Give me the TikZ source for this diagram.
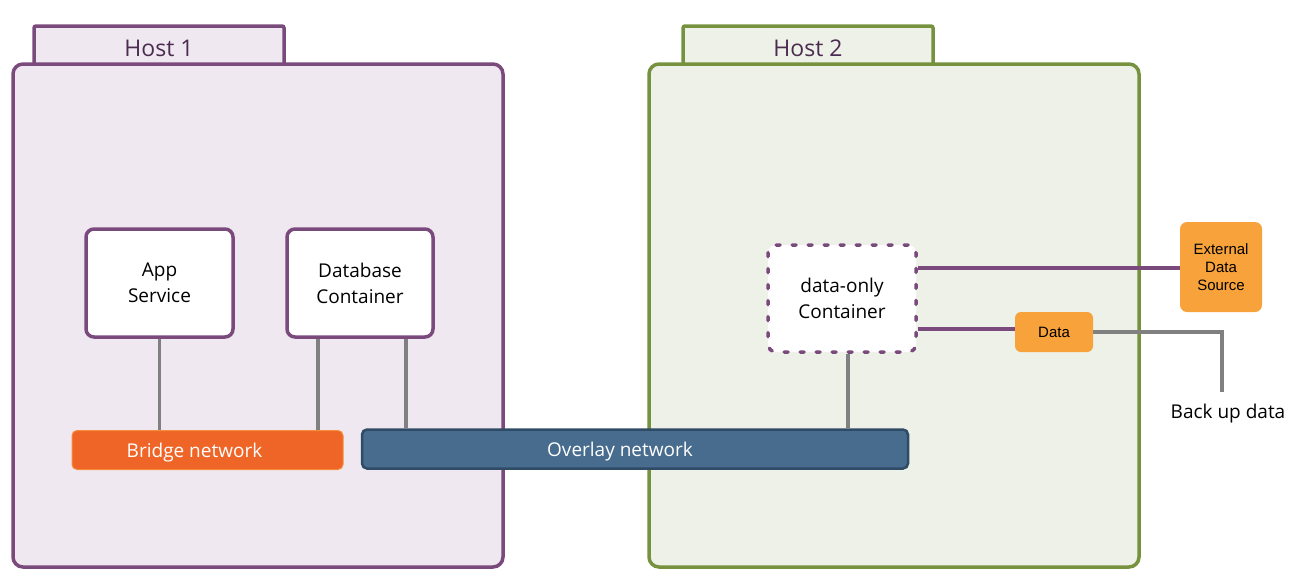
\documentclass[tikz,border=0pt]{standalone}
\usepackage{fontspec}
\setmainfont{Open Sans}
\newfontfamily\arialfont{Liberation Sans}
\usetikzlibrary{positioning}
\definecolor{hostPurple}{RGB}{123,74,125}
\definecolor{hostPurpleFill}{RGB}{240,232,240}
\definecolor{hostGreen}{RGB}{118,146,63}
\definecolor{hostGreenFill}{RGB}{238,241,232}
\definecolor{hostText}{RGB}{75,43,79}
\definecolor{linkGray}{RGB}{128,128,128}
\definecolor{bridgeOrange}{RGB}{239,101,39}
\definecolor{bridgeOrangeLight}{RGB}{246,140,60}
\definecolor{overlayBlue}{RGB}{71,108,142}
\definecolor{overlayBlueDark}{RGB}{47,75,102}
\definecolor{dataOrange}{RGB}{247,162,58}

\tikzset{
  hostbox/.style={draw, line width=3.5pt, rounded corners=10pt, inner sep=0pt,
    minimum width=490pt, minimum height=503pt},
  hosttab/.style={draw, line width=3.5pt, rounded corners=2pt, inner sep=0pt,
    minimum width=250pt, minimum height=44pt, text=hostText,
    font=\fontsize{23}{27}\selectfont},
  svcbox/.style={draw=hostPurple, fill=white, line width=3.5pt, rounded corners=8pt,
    minimum width=147pt, minimum height=108pt, align=center,
    font=\fontsize{19}{26}\selectfont},
  netbar/.style={rounded corners=5pt, minimum height=39pt, inner sep=0pt},
  netlabel/.style={text=white, font=\fontsize{19}{23}\selectfont, yshift=-3pt},
  extbox/.style={fill=dataOrange, rounded corners=7pt, align=center, inner sep=0pt,
    font=\arialfont\fontsize{15}{18}\selectfont},
  graylink/.style={draw=linkGray, line width=3.5pt},
  purplelink/.style={draw=hostPurple, line width=3.5pt},
}

\begin{document}
\begin{tikzpicture}[x=1pt,y=-1pt]
    \useasboundingbox (0,0) rectangle (1303,571);

    % hosts
    \node[hosttab, draw=hostPurple, fill=hostPurpleFill] (host1tab) at (159,48) {Host 1};
    \node[hostbox, draw=hostPurple, fill=hostPurpleFill] (host1) at (258,315.5) {};
    \node[hosttab, draw=hostGreen, fill=hostGreenFill] (host2tab) at (808,48) {Host 2};
    \node[hostbox, draw=hostGreen, fill=hostGreenFill] (host2) at (894,315.5) {};

    % containers
    \node[svcbox] (app) at (159.5,283) {App\\Service};
    \node[svcbox, minimum width=146pt] (db) at (360,283) {Database\\Container};
    \node[svcbox, dash pattern=on 4pt off 12pt, line cap=round,
        minimum width=148pt, minimum height=107pt]
        (dataonly) at (842,298.5) {data-only\\Container};

    % networks
    \node[netbar, fill=bridgeOrange, draw=bridgeOrangeLight, line width=1pt,
        minimum width=271pt, label={[netlabel, xshift=-13pt]center:Bridge network}]
        (bridge) at (207.5,450) {};
    \node[netbar, fill=overlayBlue, draw=overlayBlueDark, line width=2.5pt,
        minimum width=546pt, label={[netlabel, xshift=-15pt]center:Overlay network}]
        (overlay) at (635,449) {};

    % data sources
    \node[extbox, minimum width=82pt, minimum height=90pt] (ext) at (1221,267)
        {External\\Data\\Source};
    \node[extbox, rounded corners=6pt, minimum width=78pt, minimum height=40pt]
        (data) at (1054,332) {Data};
    \coordinate (backup) at (1222,392);
    \node[font=\fontsize{19}{23}\selectfont] (backuplbl) at (1228,414) {Back up data};

    % links to networks
    \draw[graylink] (app.south) -- (app.south |- bridge.north);
    \draw[graylink] ([xshift=-42pt]db.south) -- ([xshift=-42pt]db.south |- bridge.north);
    \draw[graylink] ([xshift=46pt]db.south) -- ([xshift=46pt]db.south |- overlay.north);
    \draw[graylink] ([xshift=6pt]dataonly.south) -- ([xshift=6pt]dataonly.south |- overlay.north);

    % links to data
    \draw[purplelink] ([yshift=-1pt]ext.west -| dataonly.east) -- ([yshift=-1pt]ext.west);
    \draw[purplelink] ([yshift=3pt]data.west -| dataonly.east) -- ([yshift=3pt]data.west);
    \draw[graylink] (data.east) -| (backup);
\end{tikzpicture}
\end{document}
